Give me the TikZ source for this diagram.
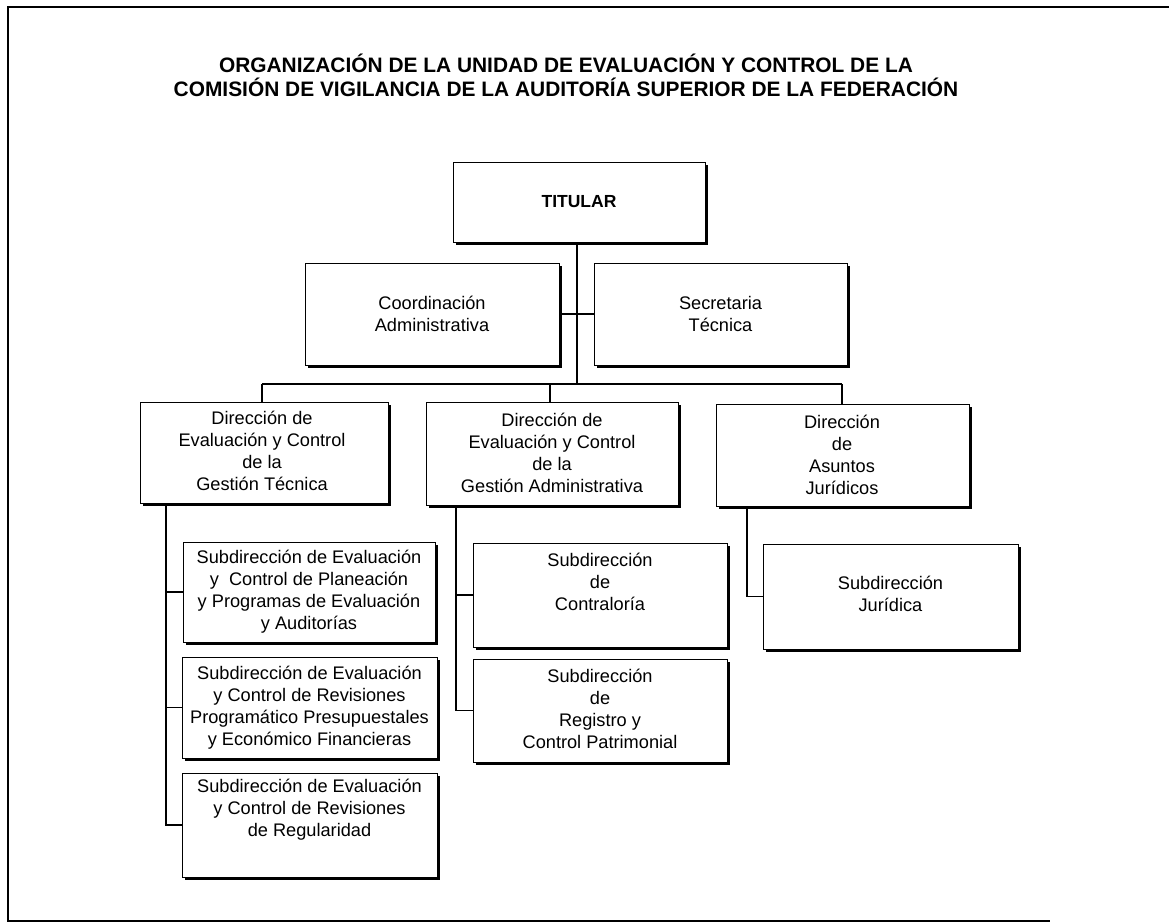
\documentclass[tikz,border=0pt]{standalone}
\usepackage{fontspec}
\setmainfont{Liberation Sans}
\usetikzlibrary{calc}
\tikzset{
  box/.style={draw=black, line width=0.9pt, fill=white, inner sep=0pt, rectangle},
  shadowbox/.style={fill=black, inner sep=0pt, rectangle},
  txt/.style={align=center, font=\fontsize{18.2}{22}\selectfont, inner sep=0pt},
  conn/.style={draw=black, line width=1.3pt},
  frameline/.style={draw=black, line width=1.6pt}
}
\newcommand{\orgbox}[5]{% name, cx, cy, w, h
  \node[shadowbox, minimum width=#4pt, minimum height=#5pt] (#1sh) at (#2+3,#3+3) {};
  \node[box, minimum width=#4pt, minimum height=#5pt] (#1) at (#2,#3) {};
}
\begin{document}
\begin{tikzpicture}[x=1pt,y=-1pt]
\useasboundingbox (0,0) rectangle (1169,923);
% frame
\coordinate (f1) at (1169,7);
\coordinate (f2) at (8,7);
\coordinate (f3) at (8,921);
\coordinate (f4) at (1050,921);
\draw[frameline] (f1) -- (f2) -- (f3) -- (f4);
% title
\node[font=\bfseries\fontsize{20.9}{24}\selectfont, align=center, inner sep=0pt] (title) at (566,75)
 {ORGANIZACIÓN DE LA UNIDAD DE EVALUACIÓN Y CONTROL DE LA\\COMISIÓN DE VIGILANCIA DE LA AUDITORÍA SUPERIOR DE LA FEDERACIÓN};
% boxes
\orgbox{tit}{579}{202}{252}{80}
\orgbox{coor}{432}{314}{254}{102}
\orgbox{sec}{720.5}{314}{253}{102}
\orgbox{da}{264}{452.5}{248}{101}
\orgbox{db}{552}{453.5}{252}{103}
\orgbox{dc}{842.5}{455}{253}{102}
\orgbox{saa}{309}{592}{252}{100}
\orgbox{sab}{309.5}{707.5}{255}{101}
\orgbox{sac}{309.5}{825}{255}{104}
\orgbox{sba}{600}{595}{254}{104}
\orgbox{sbb}{600}{710.5}{254}{103}
\orgbox{sca}{890.5}{596.5}{255}{105}
% texts
\node[txt, font=\bfseries\fontsize{17.5}{22}\selectfont] (ttit) at (579,202) {TITULAR};
\node[txt] (tcoor) at (432,314) {Coordinación\\Administrativa};
\node[txt] (tsec) at (720.5,314) {Secretaria\\Técnica};
\node[txt] (tda) at (262,451) {Dirección de\\Evaluación y Control\\de la\\Gestión Técnica};
\node[txt] (tdb) at (552,452.5) {Dirección de\\Evaluación y Control\\de la\\Gestión Administrativa};
\node[txt] (tdc) at (842,455) {Dirección\\de\\Asuntos\\Jurídicos};
\node[txt] (tsaa) at (309,592) {Subdirección de Evaluación\\y \ Control de Planeación\\y Programas de Evaluación\\y Auditorías};
\node[txt] (tsab) at (309.5,708) {Subdirección de Evaluación\\y Control de Revisiones\\Programático Presupuestales\\y Económico Financieras};
\node[txt] (tsac) at (309.5,810) {Subdirección de Evaluación\\y Control de Revisiones\\de Regularidad};
\node[txt] (tsba) at (600,582) {Subdirección\\de\\Contraloría};
\node[txt] (tsbb) at (600,709) {Subdirección\\de\\Registro y\\Control Patrimonial};
\node[txt] (tsca) at (890.5,594) {Subdirección\\Jurídica};
% connectors
\coordinate (bus) at (577,384);
\coordinate (busl) at (262,384);
\coordinate (busr) at (842,384);
\coordinate (busm) at (550,384);
\draw[conn] (tit.south -| bus) -- (bus);
\draw[conn] (coor.east) -- (sec.west);
\draw[conn] (busl) -- (busr);
\draw[conn] (busl) -- (busl |- da.north);
\draw[conn] (busm) -- (busm |- db.north);
\draw[conn] (busr) -- (busr |- dc.north);
% column 1
\coordinate (c1) at (166,0);
\draw[conn] (c1 |- da.south) -- (c1 |- sac.west) -- (sac.west);
\draw[conn] (c1 |- saa.west) -- (saa.west);
\draw[conn] (c1 |- sab.west) -- (sab.west);
% column 2
\coordinate (c2) at (456,0);
\draw[conn] (c2 |- db.south) -- (c2 |- sbb.west) -- (sbb.west);
\draw[conn] (c2 |- sba.west) -- (sba.west);
% column 3
\coordinate (c3) at (747,0);
\draw[conn] (c3 |- dc.south) -- (c3 |- sca.west) -- (sca.west);
\end{tikzpicture}
\end{document}
